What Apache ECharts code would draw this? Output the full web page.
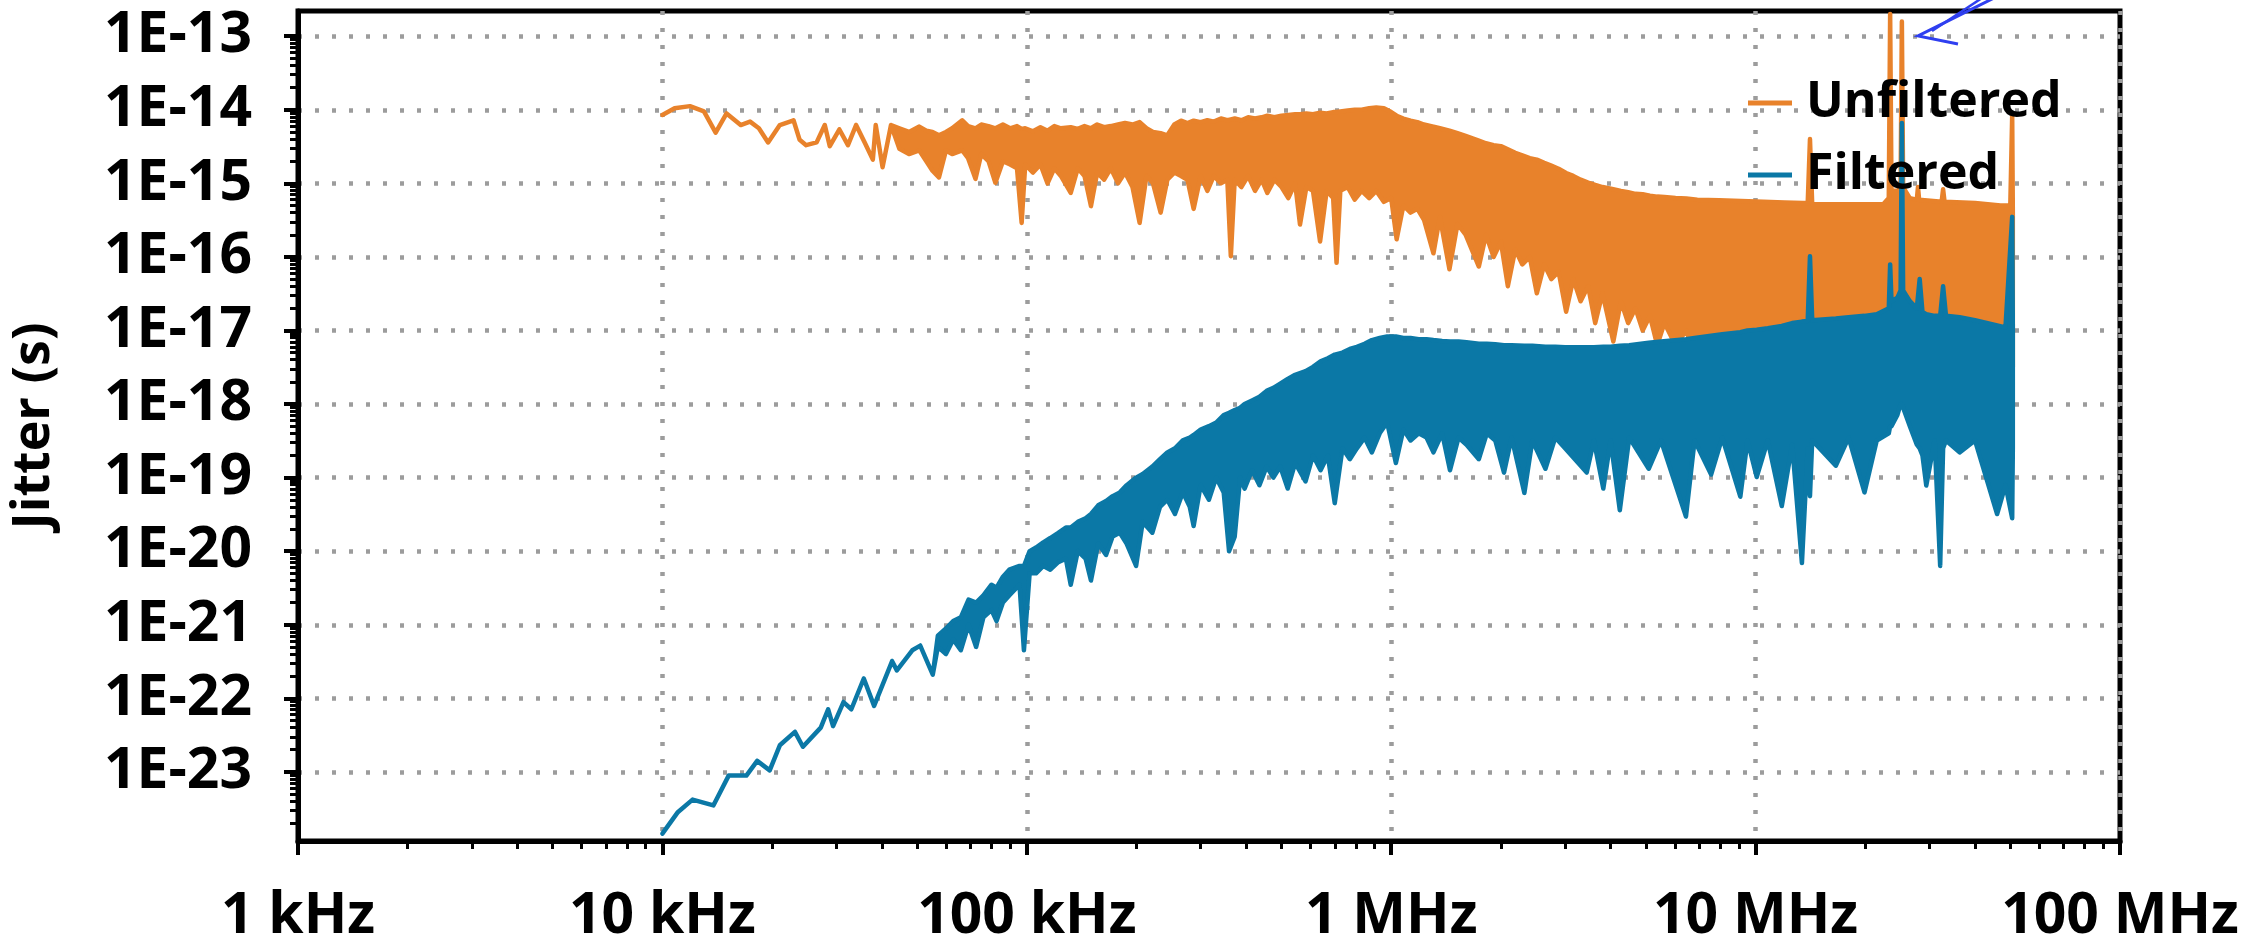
<!DOCTYPE html>
<html>
<head>
<meta charset="utf-8">
<script src="https://cdn.jsdelivr.net/npm/echarts@6/dist/echarts.min.js"></script>
<style>
  html, body { margin: 0; padding: 0; background: #fff; }
  #chart { width: 2254px; height: 951px; }
</style>
</head>
<body>
<div id="chart"></div>
<script>
// x tick labels (decades)
const xTicks = [1e3, 1e4, 1e5, 1e6, 1e7, 1e8];
const xTickLabels = ['1 kHz', '10 kHz', '100 kHz', '1 MHz', '10 MHz', '100 MHz'];
const yTicks = [1e-23, 1e-22, 1e-21, 1e-20, 1e-19, 1e-18, 1e-17, 1e-16, 1e-15, 1e-14, 1e-13];

// Unfiltered: frequency (Hz), upper and lower edge of the trace (s)
const unfFreq = [
  10000, 10800, 11900, 13000, 14000, 15000, 16400, 17400, 18400, 19500,
  21000, 22900, 23800, 24800, 26500, 27900, 28800, 30600, 32300, 34000,
  35900, 37800, 38500, 40200, 42400,
  44700, 47500, 50700, 53000, 55100, 57400, 60000, 62400, 66500, 69000,
  72300, 75000, 78500, 82000, 86000, 90000, 94000, 96800, 99000,
  104000, 109000, 114000, 119000, 124000, 132000, 138000, 144000, 150000, 156000,
  163000, 170000, 178000, 186000, 195000, 204000, 213000, 222000, 233000, 243000,
  254000, 265000, 276000, 287000, 300000, 313000, 326000, 341000, 355000, 363000,
  372000, 388000, 405000, 423000, 441000, 457000, 478000, 500000, 522000, 545000,
  562000, 585000, 610000, 638000, 665000, 693000, 708000, 725000, 760000, 794000,
  830000, 870000, 910000, 955000, 1000000,
  1035000, 1080000, 1130000, 1180000, 1230000, 1306000, 1360000, 1445000, 1520000, 1600000,
  1740000, 1820000, 1910000, 2000000, 2090000, 2190000, 2290000, 2400000, 2510000, 2630000,
  2750000, 2880000, 3020000, 3160000, 3310000, 3470000, 3630000, 3800000, 4070000, 4270000,
  4470000, 4680000, 4900000, 5130000, 5370000, 5620000, 6030000, 6460000,
  6920000, 7940000, 9120000, 10500000, 12000000, 13500000, 13900000, 14100000, 14300000, 17000000,
  20000000, 22400000, 23200000, 23400000, 23600000, 24500000, 25000000, 25200000, 25400000, 26500000,
  27700000, 27900000, 28100000, 32400000, 32700000, 33000000, 40000000, 47000000, 50000000, 50600000,
  50800000
];
const unfHigh = [
  8.5e-15, 1.05e-14, 1.12e-14, 9.5e-15, 4.9e-15, 8.9e-15, 6.2e-15, 6.9e-15, 5.6e-15, 3.6e-15,
  6.2e-15, 7.2e-15, 3.9e-15, 3.3e-15, 3.6e-15, 6.2e-15, 3.2e-15, 5.4e-15, 3.3e-15, 6.2e-15,
  3.6e-15, 2.1e-15, 6.2e-15, 1.66e-15, 6.2e-15,
  5.6e-15, 5.0e-15, 5.9e-15, 5.2e-15, 5.0e-15, 4.5e-15, 5.0e-15, 5.6e-15, 7.2e-15, 6.0e-15,
  5.6e-15, 6.3e-15, 6.0e-15, 5.6e-15, 6.3e-15, 5.6e-15, 6.0e-15, 5.5e-15, 5.6e-15,
  5.1e-15, 5.8e-15, 5.2e-15, 6.0e-15, 5.6e-15, 5.8e-15, 5.5e-15, 6.0e-15, 5.6e-15, 6.3e-15,
  5.8e-15, 6.0e-15, 6.3e-15, 6.6e-15, 6.3e-15, 6.8e-15, 5.6e-15, 5.0e-15, 4.8e-15, 4.5e-15,
  6.3e-15, 7.1e-15, 6.6e-15, 7.1e-15, 6.8e-15, 7.2e-15, 6.9e-15, 7.6e-15, 7.2e-15, 7.4e-15,
  7.6e-15, 7.2e-15, 7.9e-15, 7.6e-15, 7.9e-15, 8.3e-15, 7.9e-15, 8.3e-15, 8.5e-15, 8.7e-15,
  8.7e-15, 8.9e-15, 8.7e-15, 9.1e-15, 8.9e-15, 9.3e-15, 9.3e-15, 9.5e-15, 9.8e-15, 1.0e-14,
  1.0e-14, 1.05e-14, 1.07e-14, 1.05e-14, 9.3e-15,
  8.3e-15, 7.6e-15, 7.1e-15, 6.8e-15, 6.3e-15, 5.9e-15, 5.6e-15, 5.2e-15, 4.8e-15, 4.4e-15,
  3.8e-15, 3.5e-15, 3.3e-15, 3.2e-15, 2.9e-15, 2.6e-15, 2.4e-15, 2.2e-15, 2.1e-15, 1.9e-15,
  1.74e-15, 1.58e-15, 1.38e-15, 1.26e-15, 1.12e-15, 1.02e-15, 9.5e-16, 8.9e-16, 8.3e-16, 7.9e-16,
  7.6e-16, 7.2e-16, 7.1e-16, 6.8e-16, 6.6e-16, 6.5e-16, 6.3e-16, 6.2e-16,
  6.0e-16, 5.9e-16, 5.75e-16, 5.6e-16, 5.5e-16, 5.4e-16, 5.4e-16, 4.0e-15, 5.2e-16, 5.2e-16,
  5.2e-16, 5.2e-16, 6.3e-16, 2.0e-13, 7.9e-16, 7.9e-16, 8.9e-16, 1.58e-13, 8.9e-16, 6.3e-16,
  6.0e-16, 8.9e-16, 6.0e-16, 5.6e-16, 8.3e-16, 5.6e-16, 5.4e-16, 5.0e-16, 5.0e-16, 8.5e-15,
  4.0e-16
];
const unfLow = [
  8.5e-15, 1.05e-14, 1.12e-14, 9.5e-15, 4.9e-15, 8.9e-15, 6.2e-15, 6.9e-15, 5.6e-15, 3.6e-15,
  6.2e-15, 7.2e-15, 3.9e-15, 3.3e-15, 3.6e-15, 6.2e-15, 3.2e-15, 5.4e-15, 3.3e-15, 6.2e-15,
  3.6e-15, 2.1e-15, 6.2e-15, 1.66e-15, 6.2e-15,
  2.95e-15, 2.5e-15, 2.8e-15, 2.0e-15, 1.48e-15, 1.2e-15, 2.8e-15, 2.5e-15, 2.8e-15, 2.2e-15,
  1.15e-15, 2.5e-15, 2.0e-15, 1.02e-15, 2.0e-15, 1.8e-15, 1.6e-15, 2.9e-16, 1.8e-15,
  1.4e-15, 1.8e-15, 1.0e-15, 1.6e-15, 1.26e-15, 7.4e-16, 1.6e-15, 1.26e-15, 4.9e-16, 1.4e-15,
  1.12e-15, 1.6e-15, 1.0e-15, 1.4e-15, 8.9e-16, 2.9e-16, 1.26e-15, 1.0e-15, 4.0e-16, 1.12e-15,
  1.4e-15, 1.26e-15, 1.12e-15, 4.5e-16, 1.26e-15, 7.9e-16, 1.26e-15, 1.0e-15, 1.12e-15, 1.02e-16,
  1.12e-15, 8.9e-16, 1.26e-15, 7.9e-16, 1.12e-15, 7.4e-16, 1.12e-15, 8.9e-16, 6.3e-16, 1.0e-15,
  2.75e-16, 8.9e-16, 7.9e-16, 1.62e-16, 7.9e-16, 6.3e-16, 8.3e-17, 7.9e-16, 8.9e-16, 6.0e-16,
  7.9e-16, 6.3e-16, 7.9e-16, 5.6e-16, 6.3e-16,
  1.74e-16, 5.0e-16, 4.0e-16, 4.5e-16, 3.2e-16, 1.12e-16, 3.5e-16, 6.8e-17, 2.8e-16, 2.0e-16,
  7.4e-17, 2.0e-16, 1.0e-16, 1.6e-16, 4.0e-17, 1.26e-16, 7.9e-17, 1.0e-16, 3.2e-17, 7.9e-17,
  5.0e-17, 6.3e-17, 1.8e-17, 5.0e-17, 2.5e-17, 4.0e-17, 1.26e-17, 3.2e-17, 7.1e-18, 2.5e-17,
  1.26e-17, 2.0e-17, 1.0e-17, 1.58e-17, 6.3e-18, 1.26e-17, 6.3e-18, 1.0e-17,
  3.2e-18, 3.2e-18, 3.2e-18, 3.2e-18, 3.2e-18, 3.2e-18, 3.2e-18, 3.2e-18, 3.2e-18, 3.2e-18,
  3.2e-18, 3.2e-18, 3.2e-18, 3.2e-18, 3.2e-18, 3.2e-18, 3.2e-18, 3.2e-18, 3.2e-18, 3.2e-18,
  3.2e-18, 3.2e-18, 3.2e-18, 3.2e-18, 3.2e-18, 3.2e-18, 3.2e-18, 3.2e-18, 3.2e-18, 3.2e-18,
  3.2e-18
];

// Filtered: frequency (Hz), upper and lower edge of the trace (s)
const filFreq = [
  10000, 11000, 12100, 13800, 15200, 17000, 18200, 19700, 21000, 23100,
  24300, 27200, 28500, 29400, 31400, 33000, 35700, 38100, 42700, 44000,
  48500, 51000, 55200,
  57000, 60000, 62800, 65900, 69200, 72600, 76000, 80000, 82600, 86000,
  89500, 95500, 98200, 101800,
  106000, 111000, 116000, 122000, 128000, 132000, 138000, 145000, 150000, 157000,
  165000, 172000, 180000, 188000, 199500, 208000, 221000, 232000, 243000, 255000,
  268000, 280000, 287000, 300000, 316000, 331000, 347000, 359000, 372000, 385000,
  396000, 415000, 435000, 455000, 475000, 496000, 520000, 545000, 582000, 610000,
  640000, 670000, 700000, 735000, 770000, 805000, 845000, 885000, 930000, 975000,
  1030000, 1080000, 1130000, 1190000, 1250000, 1306000, 1380000, 1450000, 1530000, 1610000,
  1740000, 1830000, 1930000, 2040000, 2140000, 2320000, 2440000, 2650000, 2820000, 3000000,
  3440000, 3600000, 3820000, 4000000, 4240000, 4500000, 5090000, 5500000, 6440000, 6800000,
  7550000, 8100000, 9080000, 9500000, 10070000, 10800000, 11800000, 12600000, 13400000, 13900000,
  14100000, 14300000, 16600000, 18000000, 19900000, 21500000, 23200000, 23400000, 23600000, 24500000,
  25000000, 25200000, 25400000, 26500000, 27700000, 28200000, 28700000, 29400000, 31000000, 32100000,
  32700000, 33300000, 36300000, 40000000, 46000000, 48500000, 50600000, 50800000
];
const filHigh = [
  1.45e-24, 2.8e-24, 4.2e-24, 3.5e-24, 8.9e-24, 8.9e-24, 1.41e-23, 1.05e-23, 2.3e-23, 3.5e-23,
  2.2e-23, 4.0e-23, 7.1e-23, 4.2e-23, 8.9e-23, 7.1e-23, 1.86e-22, 7.9e-23, 3.2e-22, 2.4e-22,
  4.5e-22, 5.2e-22, 2.1e-22,
  7.1e-22, 8.9e-22, 1.12e-21, 1.26e-21, 2.2e-21, 2.0e-21, 2.5e-21, 3.5e-21, 3.2e-21, 4.5e-21,
  5.6e-21, 6.3e-21, 6.3e-21, 1.0e-20,
  1.12e-20, 1.32e-20, 1.51e-20, 1.78e-20, 2.1e-20, 2.1e-20, 2.5e-20, 2.8e-20, 3.2e-20, 4.2e-20,
  4.8e-20, 5.6e-20, 6.3e-20, 7.9e-20, 1.0e-19, 1.12e-19, 1.41e-19, 1.78e-19, 2.2e-19, 2.5e-19,
  3.2e-19, 3.5e-19, 3.8e-19, 4.5e-19, 5.0e-19, 5.6e-19, 7.1e-19, 7.6e-19, 8.3e-19, 8.9e-19,
  1.0e-18, 1.12e-18, 1.26e-18, 1.51e-18, 1.66e-18, 1.9e-18, 2.2e-18, 2.5e-18, 2.8e-18, 3.2e-18,
  3.8e-18, 4.2e-18, 4.7e-18, 5.0e-18, 5.6e-18, 6.0e-18, 6.6e-18, 7.4e-18, 7.9e-18, 8.3e-18,
  8.3e-18, 7.9e-18, 7.9e-18, 7.6e-18, 7.6e-18, 7.4e-18, 7.2e-18, 7.1e-18, 7.1e-18, 6.9e-18,
  6.6e-18, 6.6e-18, 6.5e-18, 6.3e-18, 6.3e-18, 6.2e-18, 6.2e-18, 6.0e-18, 6.0e-18, 5.9e-18,
  5.9e-18, 5.9e-18, 6.0e-18, 6.0e-18, 6.2e-18, 6.3e-18, 6.8e-18, 7.1e-18, 7.6e-18, 7.9e-18,
  8.5e-18, 8.9e-18, 9.5e-18, 1.0e-17, 1.02e-17, 1.07e-17, 1.15e-17, 1.26e-17, 1.32e-17, 1.35e-17,
  1.02e-16, 1.38e-17, 1.45e-17, 1.51e-17, 1.58e-17, 1.66e-17, 2.0e-17, 7.9e-17, 2.5e-17, 2.8e-17,
  3.5e-17, 6.6e-15, 3.5e-17, 2.5e-17, 2.0e-17, 5.0e-17, 1.78e-17, 1.66e-17, 1.58e-17, 1.58e-17,
  4.0e-17, 1.58e-17, 1.51e-17, 1.38e-17, 1.17e-17, 1.1e-17, 3.5e-16, 1.0e-17
];
const filLow = [
  1.45e-24, 2.8e-24, 4.2e-24, 3.5e-24, 8.9e-24, 8.9e-24, 1.41e-23, 1.05e-23, 2.3e-23, 3.5e-23,
  2.2e-23, 4.0e-23, 7.1e-23, 4.2e-23, 8.9e-23, 7.1e-23, 1.86e-22, 7.9e-23, 3.2e-22, 2.4e-22,
  4.5e-22, 5.2e-22, 2.1e-22,
  5.0e-22, 4.0e-22, 6.3e-22, 4.5e-22, 1.0e-21, 5.0e-22, 1.26e-21, 1.58e-21, 1.12e-21, 2.0e-21,
  2.5e-21, 3.5e-21, 4.5e-22, 5.0e-21,
  5.0e-21, 6.3e-21, 5.6e-21, 7.1e-21, 7.9e-21, 3.5e-21, 1.0e-20, 7.9e-21, 4.0e-21, 1.26e-20,
  8.9e-21, 1.58e-20, 1.78e-20, 1.26e-20, 6.3e-21, 2.5e-20, 1.78e-20, 4.0e-20, 5.0e-20, 3.2e-20,
  6.3e-20, 4.0e-20, 2.2e-20, 7.9e-20, 5.0e-20, 1.0e-19, 6.3e-20, 1.0e-20, 1.58e-20, 1.0e-19,
  7.1e-20, 1.26e-19, 7.9e-20, 1.41e-19, 1.0e-19, 1.41e-19, 7.1e-20, 1.58e-19, 8.9e-20, 2.0e-19,
  1.26e-19, 2.0e-19, 4.5e-20, 2.5e-19, 1.78e-19, 2.5e-19, 3.5e-19, 2.2e-19, 4.0e-19, 5.6e-19,
  1.58e-19, 4.5e-19, 3.2e-19, 4.0e-19, 3.5e-19, 2.2e-19, 4.0e-19, 1.26e-19, 3.5e-19, 2.8e-19,
  1.78e-19, 4.0e-19, 3.2e-19, 1.17e-19, 3.5e-19, 6.2e-20, 3.2e-19, 1.32e-19, 3.5e-19, 2.5e-19,
  1.17e-19, 3.2e-19, 7.1e-20, 3.2e-19, 3.6e-20, 3.5e-19, 1.32e-19, 3.2e-19, 2.95e-20, 3.2e-19,
  1.1e-19, 3.5e-19, 5.5e-20, 3.2e-19, 1.02e-19, 3.2e-19, 4.1e-20, 2.8e-19, 6.9e-21, 2.5e-19,
  5.6e-20, 3.2e-19, 1.45e-19, 3.5e-19, 6.3e-20, 3.2e-19, 4.0e-19, 5.0e-19, 5.0e-19, 7.1e-19,
  1.0e-18, 1.0e-18, 8.9e-19, 5.0e-19, 2.8e-19, 2.5e-19, 2.0e-19, 7.8e-20, 3.2e-19, 6.3e-21,
  2.5e-19, 3.2e-19, 2.2e-19, 3.2e-19, 3.2e-20, 7.9e-20, 2.8e-20, 2.5e-19
];

const ORANGE = '#e8822b';
const BLUE = '#0b78a6';
const FONT = "'Open Sans', 'Noto Sans', sans-serif";
const GRID_DOT = { color: '#9c9c9c', width: 4.5, type: [4, 13] };

// minor ticks at 2..9 of every decade
function minorTicks(fromExp, toExp) {
  const out = [];
  for (let e = fromExp; e < toExp; e++) {
    for (let k = 2; k <= 9; k++) out.push(k * Math.pow(10, e));
  }
  return out;
}

function bandRenderer(freq, high, low, color) {
  return function (params, api) {
    if (params.dataIndex !== 0) return null;
    const top = freq.map((f, i) => api.coord([f, high[i]]));
    const bottom = freq.map((f, i) => api.coord([f, low[i]])).reverse();
    return {
      type: 'polygon',
      shape: { points: top.concat(bottom) },
      style: { fill: color, stroke: color, lineWidth: 4.5, lineJoin: 'round' }
    };
  };
}

const xLabel = (v) => {
  const i = xTicks.findIndex(t => Math.abs(Math.log10(t / v)) < 1e-6);
  return i >= 0 ? xTickLabels[i] : '';
};
const yLabel = (v) => '1E' + Math.round(Math.log10(v));

const chart = echarts.init(document.getElementById('chart'));
chart.setOption({
  animation: false,
  backgroundColor: '#fff',
  grid: {
    left: 297, right: 134, top: 11, bottom: 110,
    show: true, borderColor: '#000', borderWidth: 5, backgroundColor: 'transparent'
  },
  legend: {
    orient: 'vertical',
    left: 1748, top: 78,
    padding: 0,
    itemGap: 22,
    itemWidth: 44, itemHeight: 5,
    data: [{ name: 'Unfiltered', icon: 'rect' }, { name: 'Filtered', icon: 'rect' }],
    textStyle: { fontFamily: FONT, fontWeight: 'bold', fontSize: 50, color: '#000', padding: [0, 0, 0, 9] }
  },
  xAxis: [{
    type: 'log', logBase: 10, min: 1e3, max: 1e8, position: 'bottom',
    axisLine: { show: true, lineStyle: { color: '#000', width: 5 } },
    axisTick: { show: true, length: 14, lineStyle: { color: '#000', width: 4 } },
    axisLabel: { formatter: xLabel, margin: 47, fontFamily: FONT, fontWeight: 'bold', fontSize: 57, color: '#000' },
    splitLine: { show: true, lineStyle: GRID_DOT }
  }, {
    type: 'log', logBase: 10, min: 1e3, max: 1e8, position: 'bottom',
    axisLine: { show: false },
    axisTick: { show: true, length: 8, customValues: minorTicks(3, 8), lineStyle: { color: '#000', width: 3 } },
    axisLabel: { show: false },
    splitLine: { show: false }
  }],
  yAxis: [{
    type: 'log', logBase: 10, min: 1.15e-24, max: 2.2e-13, splitNumber: 11, position: 'left',
    name: 'Jitter (s)', nameLocation: 'middle', nameGap: 238,
    nameTextStyle: { fontFamily: FONT, fontWeight: 'bold', fontSize: 52, color: '#000' },
    axisLine: { show: true, lineStyle: { color: '#000', width: 5 } },
    axisTick: { show: true, length: 14, customValues: yTicks, lineStyle: { color: '#000', width: 4 } },
    axisLabel: { customValues: yTicks, formatter: yLabel, margin: 46, fontFamily: FONT, fontWeight: 'bold', fontSize: 57, color: '#000' },
    splitLine: { show: true, lineStyle: GRID_DOT }
  }, {
    type: 'log', logBase: 10, min: 1.15e-24, max: 2.2e-13, position: 'left',
    axisLine: { show: false },
    axisTick: { show: true, length: 8, customValues: minorTicks(-24, -13).filter(v => v >= 1.15e-24 && v <= 2.2e-13), lineStyle: { color: '#000', width: 3 } },
    axisLabel: { show: false },
    splitLine: { show: false }
  }],
  series: [{
    name: 'Unfiltered',
    type: 'custom',
    clip: true,
    z: 2,
    itemStyle: { color: ORANGE },
    renderItem: bandRenderer(unfFreq, unfHigh, unfLow, ORANGE),
    encode: { x: 0, y: [1, 2] },
    data: unfFreq.map((f, i) => [f, unfHigh[i], unfLow[i]])
  }, {
    name: 'Filtered',
    type: 'custom',
    clip: true,
    z: 3,
    itemStyle: { color: BLUE },
    renderItem: bandRenderer(filFreq, filHigh, filLow, BLUE),
    encode: { x: 0, y: [1, 2] },
    data: filFreq.map((f, i) => [f, filHigh[i], filLow[i]])
  }],
  graphic: [{
    type: 'polyline', z: 100,
    shape: { points: [[1994, -2], [1918, 36], [1958, 44]] },
    style: { stroke: '#2f3ff0', lineWidth: 3, fill: null }
  }, {
    type: 'line', z: 100,
    shape: { x1: 1932, y1: 31, x2: 1982, y2: -2 },
    style: { stroke: '#2f3ff0', lineWidth: 2.5 }
  }]
});
</script>
</body>
</html>
